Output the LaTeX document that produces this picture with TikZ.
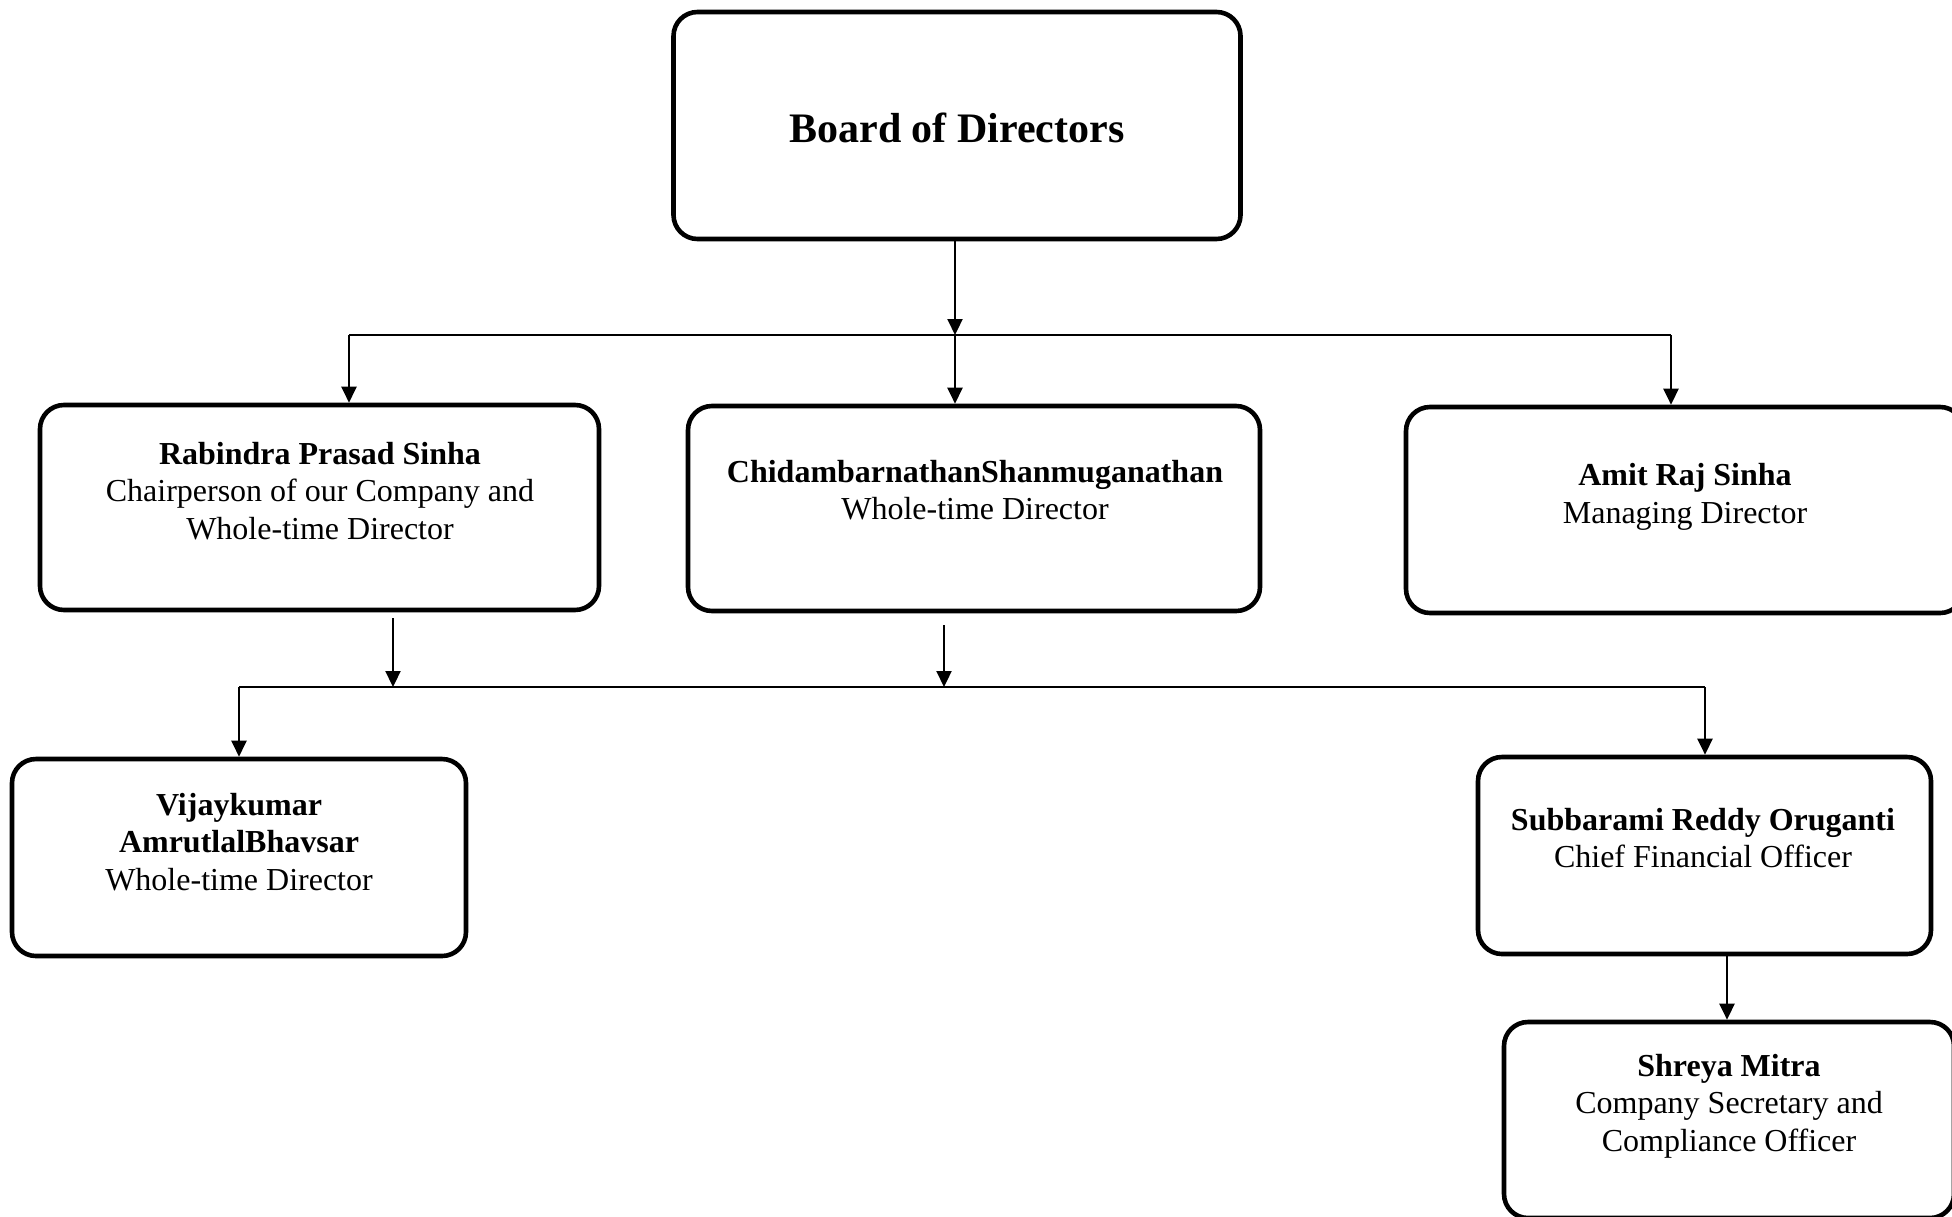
\documentclass[tikz,border=0pt]{standalone}
\usepackage{fontspec}
\setmainfont{Liberation Serif}
\usetikzlibrary{arrows.meta}

\begin{document}
\begin{tikzpicture}[x=0.5pt,y=-0.5pt,
  post/.style={rectangle,draw,rounded corners=12pt,line width=2.3pt},
  role/.style={align=center,font=\fontsize{16}{18.7}\selectfont},
  link/.style={line width=1.1pt},
  >={Triangle[length=8pt,width=7.5pt]}]
\useasboundingbox (0,0) rectangle (1952,1216);

\node [post,minimum width=283.5pt,minimum height=113.5pt,text height=17pt,font=\bfseries\fontsize{21}{25}\selectfont] (board) at (957,125.5) {Board of Directors};

\node [post,minimum width=279.5pt,minimum height=102.5pt] (rabindra) at (319.5,507.5) {};
\node [post,minimum width=286pt,minimum height=102.5pt] (chidam) at (974,508.5) {};
\node [post,minimum width=279pt,minimum height=103pt] (amit) at (1685,510) {};
\node [post,minimum width=227pt,minimum height=98.5pt] (vijay) at (239,857.5) {};
\node [post,minimum width=226.5pt,minimum height=98.5pt] (subba) at (1704.5,855.5) {};
\node [post,minimum width=225pt,minimum height=98pt] (shreya) at (1729,1120) {};

\node [role] (rabindra-txt) at (320,491) {\textbf{Rabindra Prasad Sinha}\\Chairperson of our Company and\\Whole-time Director};
\node [role] (chidam-txt) at (975,490) {\textbf{ChidambarnathanShanmuganathan}\\Whole-time Director};
\node [role] (amit-txt) at (1685,497) {\textbf{Amit Raj Sinha}\\Managing Director};
\node [role] (vijay-txt) at (239,842) {\textbf{Vijaykumar}\\\textbf{AmrutlalBhavsar}\\Whole-time Director};
\node [role] (subba-txt) at (1703,838) {\textbf{Subbarami Reddy Oruganti}\\Chief Financial Officer};
\node [role] (shreya-txt) at (1729,1106) {\textbf{Shreya Mitra}\\Company Secretary and\\Compliance Officer};

% first level
\coordinate (hub1) at (955,335);
\coordinate (hub1l) at (349,335);
\coordinate (hub1r) at (1671,335);
\draw [link,->] (board.south -| hub1) -- (hub1);
\draw [link] (hub1l) -- (hub1r);
\draw [link,->] (hub1l) -- (hub1l |- rabindra.north);
\draw [link,->] (hub1) -- (hub1 |- chidam.north);
\draw [link,->] (hub1r) -- (hub1r |- amit.north);

% second level
\coordinate (drop1) at (393,687);
\coordinate (hub2) at (944,687);
\coordinate (hub2l) at (239,687);
\coordinate (hub2r) at (1705,687);
\coordinate (drop3) at (1727,954);
\draw [link,->] ([yshift=-3pt]drop1 |- rabindra.south) -- (drop1);
\draw [link,->] ([yshift=-6pt]hub2 |- chidam.south) -- (hub2);
\draw [link] (hub2l) -- (hub2r);
\draw [link,->] (hub2l) -- (hub2l |- vijay.north);
\draw [link,->] (hub2r) -- (hub2r |- subba.north);
\draw [link,->] (drop3 |- subba.south) -- (drop3 |- shreya.north);
\end{tikzpicture}
\end{document}
